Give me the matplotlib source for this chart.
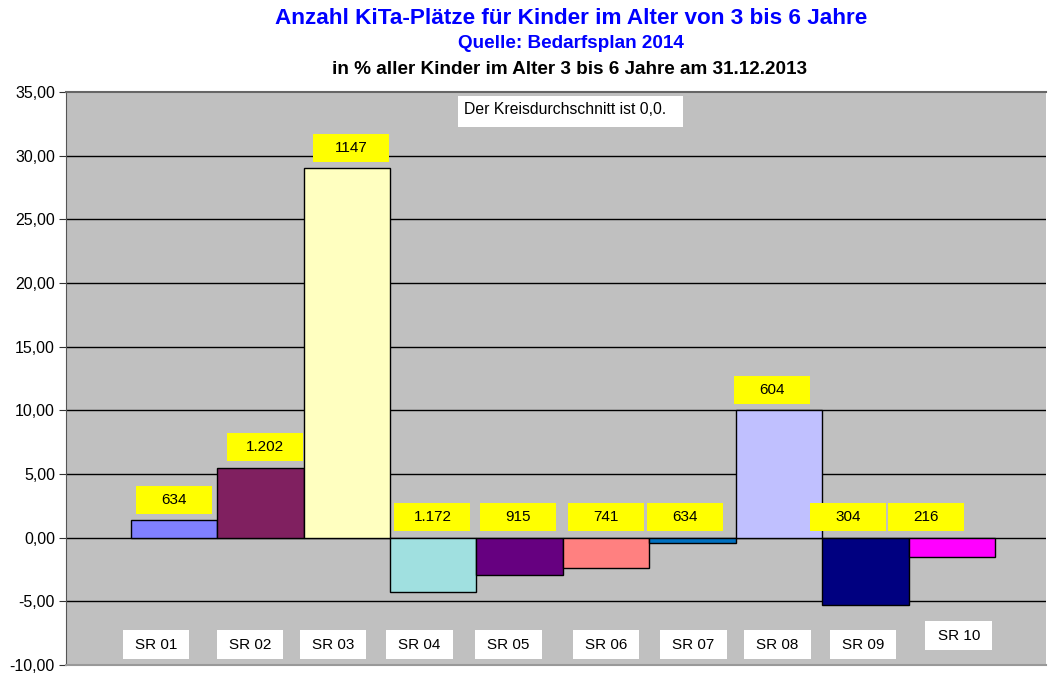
import matplotlib
matplotlib.use("Agg")
import matplotlib.pyplot as plt
from matplotlib.patches import Rectangle
import numpy as np

plt.rcParams['font.family'] = ['Liberation Sans', 'DejaVu Sans']

categories = ["SR 01", "SR 02", "SR 03", "SR 04", "SR 05",
              "SR 06", "SR 07", "SR 08", "SR 09", "SR 10"]
values = [1.35, 5.5, 29.0, -4.3, -2.9, -2.35, -0.45, 10.0, -5.3, -1.5]
box_labels = ["634", "1.202", "1147", "1.172", "915", "741", "634", "604", "304", "216"]
colors = ["#8080FF", "#802060", "#FFFFC0", "#A0E0E0", "#660080",
          "#FF8080", "#0070C0", "#C0C0FF", "#000080", "#FF00FF"]

title1 = "Anzahl KiTa-Plätze für Kinder im Alter von 3 bis 6 Jahre"
title2 = "Quelle: Bedarfsplan 2014"
title3 = "in % aller Kinder im Alter 3 bis 6 Jahre am 31.12.2013"
note = "Der Kreisdurchschnitt ist 0,0."

W, H = 1050, 674
fig = plt.figure(figsize=(W / 100, H / 100), dpi=100)
fig.patch.set_facecolor("white")
L, R, T, B = 66, 1046, 92, 665
ax = fig.add_axes([L / W, 1 - B / H, (R - L) / W, (B - T) / H])
ax.set_facecolor("#C0C0C0")

x = np.arange(len(categories))
ax.set_xlim(-1.25, 10.09)
ax.set_ylim(-10, 35)
ax.set_yticks(np.arange(-10, 36, 5))
ax.set_yticklabels([f"{v:.2f}".replace(".", ",") for v in np.arange(-10, 36, 5)],
                   fontsize=11.5)
ax.set_xticks([])
ax.tick_params(axis="y", length=5, width=0.8, color="#333333", pad=3)
for yv in np.arange(-5, 35, 5):
    ax.axhline(yv, color="black", lw=1.0, zorder=1)
ax.spines["right"].set_visible(False)
ax.spines["left"].set_color("#555555")
ax.spines["top"].set_color("#666666")
ax.spines["top"].set_linewidth(1.5)
ax.spines["bottom"].set_color("#999999")
ax.spines["bottom"].set_linewidth(1.5)

ax.bar(x, values, width=1.0, color=colors, edgecolor="black", linewidth=1.0, zorder=2)

# value label boxes (yellow)
label_dx = [0.0, 0.05, 0.05, -0.01, -0.02, 0.0, -0.09, -0.08, -0.2, -0.3]
box_w, box_h = 0.88, 2.2
for i, (v, lab) in enumerate(zip(values, box_labels)):
    cx = x[i] + label_dx[i]
    base = max(v, 0)
    cy = base + 1.6
    ax.add_patch(Rectangle((cx - box_w / 2, cy - box_h / 2), box_w, box_h,
                           facecolor="#FFFF00", edgecolor="none", zorder=3))
    ax.text(cx, cy, lab, ha="center", va="center", fontsize=11, zorder=4)

# category label boxes (white)
cat_dx = [-0.21, -0.12, -0.16, -0.16, -0.13, 0.0, 0.01, -0.02, -0.03, 0.08]
cat_y = [-8.4] * 9 + [-7.7]
cw, ch = 0.77, 2.3
for i, c in enumerate(categories):
    cx = x[i] + cat_dx[i]
    ax.add_patch(Rectangle((cx - cw / 2, cat_y[i] - ch / 2), cw, ch,
                           facecolor="white", edgecolor="none", zorder=3))
    ax.text(cx, cat_y[i], c, ha="center", va="center", fontsize=11, zorder=4)

# note box
fig.patches.append(Rectangle((458 / W, 1 - 127 / H), 225 / W, 31 / H,
                             transform=fig.transFigure, facecolor="white",
                             edgecolor="none", zorder=5))
fig.text(464 / W, 1 - 110 / H, note, ha="left", va="center", fontsize=11.3,
         zorder=6)

fig.text(571 / W, 1 - 18 / H, title1, ha="center", va="center",
         fontsize=16.2, fontweight="bold", color="#0000FF")
fig.text(571 / W, 1 - 44 / H, title2, ha="center", va="center",
         fontsize=13.6, fontweight="bold", color="#0000FF")
fig.text(570 / W, 1 - 70 / H, title3, ha="center", va="center",
         fontsize=13.6, fontweight="bold", color="black")

fig.savefig("out.png", dpi=100)
